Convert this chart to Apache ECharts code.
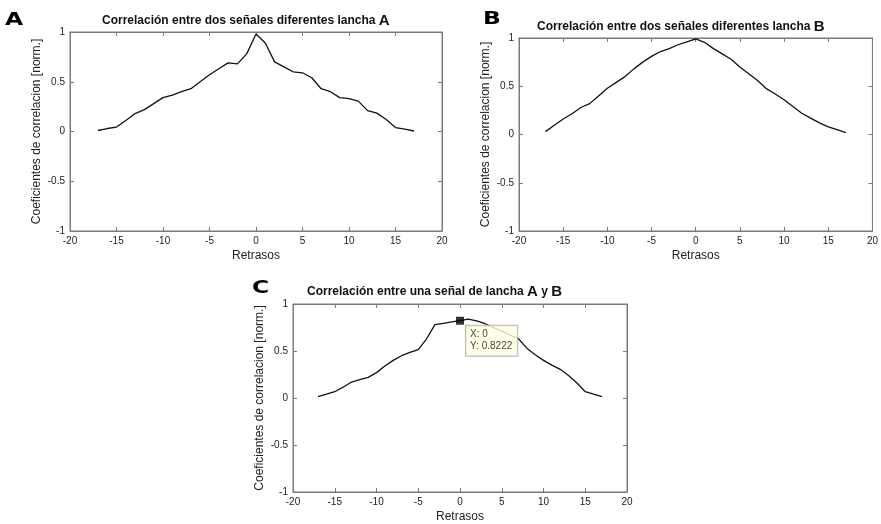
<!DOCTYPE html>
<html>
<head>
<meta charset="utf-8">
<script src="https://cdn.jsdelivr.net/npm/echarts@6/dist/echarts.min.js"></script>
<style>
    html, body { margin: 0; padding: 0; background: #fff; }
    #main { width: 881px; height: 524px; }
</style>
</head>
<body>
<div id="main"></div>
<script>
// retrasos (lags) -17 .. 17
var lags = [-17, -16, -15, -14, -13, -12, -11, -10, -9, -8, -7, -6, -5, -4, -3, -2, -1,
    0, 1, 2, 3, 4, 5, 6, 7, 8, 9, 10, 11, 12, 13, 14, 15, 16, 17];

// lancha A
var corrA = [0.01, 0.03, 0.045, 0.11, 0.18, 0.22, 0.28, 0.34, 0.365, 0.40, 0.43, 0.50, 0.57, 0.63, 0.69, 0.68, 0.78,
    0.98, 0.89, 0.70, 0.65, 0.60, 0.59, 0.54, 0.43, 0.40, 0.34, 0.33, 0.305, 0.21, 0.185, 0.12, 0.04, 0.023, 0.005];
// lancha B
var corrB = [0.03, 0.095, 0.16, 0.215, 0.28, 0.32, 0.40, 0.48, 0.54, 0.60, 0.68, 0.75, 0.81, 0.86, 0.89, 0.93, 0.96,
    0.99, 0.955, 0.89, 0.835, 0.78, 0.70, 0.63, 0.56, 0.475, 0.42, 0.36, 0.29, 0.22, 0.17, 0.12, 0.08, 0.05, 0.02];
// lancha A y B
var corrC = [0.015, 0.04, 0.067, 0.115, 0.17, 0.195, 0.22, 0.27, 0.34, 0.40, 0.45, 0.485, 0.515, 0.63, 0.78, 0.795, 0.81,
    0.8222, 0.84, 0.82, 0.79, 0.75, 0.71, 0.67, 0.63, 0.53, 0.46, 0.40, 0.35, 0.305, 0.24, 0.16, 0.067, 0.04, 0.015];

// data cursor point on C
var cursorPoint = [0, 0.8222];

var xTicks = { min: -20, max: 20, interval: 5 };
var yTicks = { min: -1, max: 1, interval: 0.5 };

var FONT = '"Liberation Sans", Arial, sans-serif';
var BOX = '#7a7a7a';

function toPairs(ys) {
    var out = [];
    for (var i = 0; i < lags.length; i++) {
        out.push([lags[i], ys[i]]);
    }
    return out;
}

var grids = [
    { left: 70, top: 32, width: 372, height: 199 },
    { left: 519, top: 38, width: 356, height: 193 },
    { left: 293, top: 304, width: 334, height: 191 }
];
var panels = [corrA, corrB, corrC];

var xAxes = [], yAxes = [], series = [];

// box line + inward ticks, used by all four sides
var boxLine = { show: true, onZero: false, lineStyle: { color: BOX } };
var boxTick = { show: true, inside: true, length: 4, lineStyle: { color: BOX } };

for (var g = 0; g < grids.length; g++) {
    grids[g].show = true;
    grids[g].borderColor = BOX;
    grids[g].borderWidth = 1;
    grids[g].containLabel = false;

    // bottom x axis with labels
    xAxes.push({
        type: 'value', gridIndex: g, position: 'bottom',
        min: xTicks.min, max: xTicks.max, interval: xTicks.interval,
        name: 'Retrasos', nameLocation: 'middle', nameGap: 19,
        nameTextStyle: { fontFamily: FONT, fontSize: 12, color: '#222' },
        axisLine: boxLine, axisTick: boxTick,
        axisLabel: { fontFamily: FONT, fontSize: 10, color: '#222', margin: 5 },
        splitLine: { show: false }
    });
    // top x axis, ticks only
    xAxes.push({
        type: 'value', gridIndex: g, position: 'top',
        min: xTicks.min, max: xTicks.max, interval: xTicks.interval,
        axisLine: boxLine, axisTick: boxTick,
        axisLabel: { show: false },
        splitLine: { show: false }
    });
    // left y axis with labels
    yAxes.push({
        type: 'value', gridIndex: g, position: 'left',
        min: yTicks.min, max: yTicks.max, interval: yTicks.interval,
        name: 'Coeficientes de correlacion [norm.]', nameLocation: 'middle', nameGap: 27,
        nameTextStyle: { fontFamily: FONT, fontSize: 12, color: '#222' },
        axisLine: boxLine, axisTick: boxTick,
        axisLabel: { fontFamily: FONT, fontSize: 10, color: '#222', margin: 5 },
        splitLine: { show: false }
    });
    // right y axis, ticks only
    yAxes.push({
        type: 'value', gridIndex: g, position: 'right',
        min: yTicks.min, max: yTicks.max, interval: yTicks.interval,
        axisLine: boxLine, axisTick: boxTick,
        axisLabel: { show: false },
        splitLine: { show: false }
    });

    series.push({
        type: 'line',
        xAxisIndex: g * 2, yAxisIndex: g * 2,
        data: toPairs(panels[g]),
        showSymbol: false, symbol: 'none',
        lineStyle: { color: '#111', width: 1.3 },
        animation: false
    });
}

// data cursor marker + its yellow tip
series.push({
    type: 'scatter',
    xAxisIndex: 4, yAxisIndex: 4,
    z: 10,
    data: [cursorPoint],
    symbol: 'rect', symbolSize: 8,
    itemStyle: { color: '#000' },
    label: {
        show: true,
        position: [10, 9],
        formatter: function (p) { return 'X: ' + p.value[0] + '\nY: ' + p.value[1]; },
        fontFamily: FONT, fontSize: 10, lineHeight: 12, color: '#111',
        backgroundColor: '#ffffe1', borderColor: '#a8a8a8', borderWidth: 1,
        padding: [3, 5, 3, 4], align: 'left', verticalAlign: 'top'
    },
    animation: false
});

function panelTitle(left, top, main, tail) {
    return {
        left: left, top: top, padding: 0,
        text: '{t|' + main + '}' + tail,
        textStyle: {
            rich: {
                t: { fontFamily: FONT, fontSize: 12, fontWeight: 'bold', color: '#111', lineHeight: 16 },
                big: { fontFamily: FONT, fontSize: 15, color: '#111', lineHeight: 16 }
            }
        }
    };
}

var titles = [
    panelTitle(102, 13, 'Correlación entre dos señales diferentes lancha ', '{big|A}'),
    panelTitle(537, 19, 'Correlación entre dos señales diferentes lancha ', '{big|B}'),
    panelTitle(307, 284, 'Correlación entre una señal de lancha ', '{big|A}{t| y }{big|B}')
];

function panelLetter(text, left, top) {
    return {
        type: 'text', left: left, top: top, scaleX: 1.3,
        style: { text: text, font: '900 18px "DejaVu Sans", sans-serif', fill: '#000' }
    };
}

var chart = echarts.init(document.getElementById('main'));
chart.setOption({
    backgroundColor: '#fff',
    animation: false,
    title: titles,
    grid: grids,
    xAxis: xAxes,
    yAxis: yAxes,
    series: series,
    graphic: [
        panelLetter('A', 5, 11),
        panelLetter('B', 483, 10),
        panelLetter('C', 252, 279)
    ]
});
</script>
</body>
</html>
